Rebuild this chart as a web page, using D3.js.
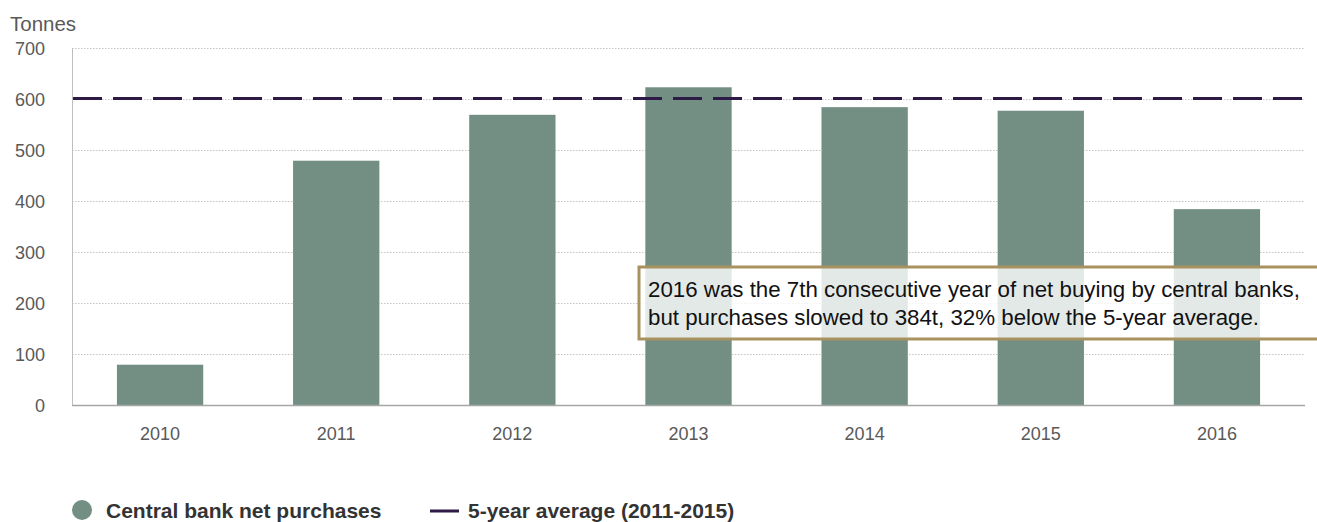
<!DOCTYPE html>
<html>
<head>
<meta charset="utf-8">
<script src="https://cdn.jsdelivr.net/npm/d3@7"></script>
<style>
  body { margin: 0; background: #fff; }
  text { font-family: "Liberation Sans", Arial, sans-serif; }
</style>
</head>
<body>
<div id="chart"></div>
<script>
// Chart data
const years = ["2010", "2011", "2012", "2013", "2014", "2015", "2016"];
const purchases = [79, 479, 569, 623, 584, 577, 384];
const average = 601;
const yTicks = [0, 100, 200, 300, 400, 500, 600, 700];
const noteLines = [
  "2016 was the 7th consecutive year of net buying by central banks,",
  "but purchases slowed to 384t, 32% below the 5-year average."
];

const width = 1317, height = 522;
const margin = { left: 72, right: 12, top: 48, bottom: 117 };

const svg = d3.select("#chart").append("svg")
  .attr("width", width)
  .attr("height", height);

const x = d3.scaleBand()
  .domain(years)
  .range([margin.left, width - margin.right])
  .paddingInner(0.51)
  .paddingOuter(0.255);

const y = d3.scaleLinear()
  .domain([0, 700])
  .range([height - margin.bottom, margin.top]);

// Gridlines (dotted)
svg.append("g")
  .selectAll("line")
  .data(yTicks.filter(d => d > 0))
  .enter()
  .append("line")
    .attr("x1", margin.left)
    .attr("x2", width - margin.right)
    .attr("y1", d => Math.round(y(d)) + 0.5)
    .attr("y2", d => Math.round(y(d)) + 0.5)
    .attr("stroke", "#c4c4c4")
    .attr("stroke-dasharray", "1.5,1.5");

// Y tick labels
svg.append("g")
  .selectAll("text")
  .data(yTicks)
  .enter()
  .append("text")
    .attr("x", 45)
    .attr("y", d => y(d) + 7)
    .attr("text-anchor", "end")
    .attr("fill", "#595959")
    .style("font-size", "18px")
    .text(d => d);

svg.append("text")
  .attr("x", 10)
  .attr("y", 31)
  .attr("fill", "#595959")
  .style("font-size", "20.5px")
  .text("Tonnes");

// Bars
svg.append("g")
  .selectAll("rect")
  .data(years)
  .enter()
  .append("rect")
    .attr("x", d => x(d))
    .attr("width", x.bandwidth())
    .attr("y", (d, i) => y(purchases[i]))
    .attr("height", (d, i) => y(0) - y(purchases[i]))
    .attr("fill", "#738f83");

// Axes lines
svg.append("line")
  .attr("x1", margin.left + 0.5).attr("x2", margin.left + 0.5)
  .attr("y1", margin.top).attr("y2", y(0))
  .attr("stroke", "#bfbfbf");
svg.append("line")
  .attr("x1", margin.left).attr("x2", width - margin.right)
  .attr("y1", y(0) + 0.5).attr("y2", y(0) + 0.5)
  .attr("stroke", "#a6a6a6")
  .attr("stroke-width", 1.5);

// X tick labels
svg.append("g")
  .selectAll("text")
  .data(years)
  .enter()
  .append("text")
    .attr("x", d => x(d) + x.bandwidth() / 2)
    .attr("y", y(0) + 35)
    .attr("text-anchor", "middle")
    .attr("fill", "#595959")
    .style("font-size", "18px")
    .text(d => d);

// 5-year average dashed line
svg.append("line")
  .attr("x1", margin.left + 1)
  .attr("x2", width - margin.right)
  .attr("y1", y(average))
  .attr("y2", y(average))
  .attr("stroke", "#2e1a47")
  .attr("stroke-width", 3)
  .attr("stroke-dasharray", "29,11");

// Annotation box
const note = svg.append("g");
note.append("rect")
  .attr("x", 639)
  .attr("y", 267)
  .attr("width", 700)
  .attr("height", 72)
  .attr("fill", "#fff")
  .attr("fill-opacity", 0.8)
  .attr("stroke", "#a8925f")
  .attr("stroke-width", 3);
note.selectAll("text")
  .data(noteLines)
  .enter()
  .append("text")
    .attr("x", 648)
    .attr("y", (d, i) => 297 + i * 28)
    .attr("fill", "#111")
    .style("font-size", "22.3px")
    .text(d => d);

// Legend
const legend = svg.append("g");
legend.append("circle")
  .attr("cx", 82).attr("cy", 510).attr("r", 10)
  .attr("fill", "#738f83");
legend.append("text")
  .attr("x", 106).attr("y", 518)
  .attr("fill", "#333")
  .style("font-size", "21px")
  .style("font-weight", "bold")
  .text("Central bank net purchases");
legend.append("line")
  .attr("x1", 430).attr("x2", 459)
  .attr("y1", 511).attr("y2", 511)
  .attr("stroke", "#2e1a47")
  .attr("stroke-width", 3);
legend.append("text")
  .attr("x", 468).attr("y", 518)
  .attr("fill", "#333")
  .style("font-size", "21px")
  .style("font-weight", "bold")
  .text("5-year average (2011-2015)");
</script>
</body>
</html>
